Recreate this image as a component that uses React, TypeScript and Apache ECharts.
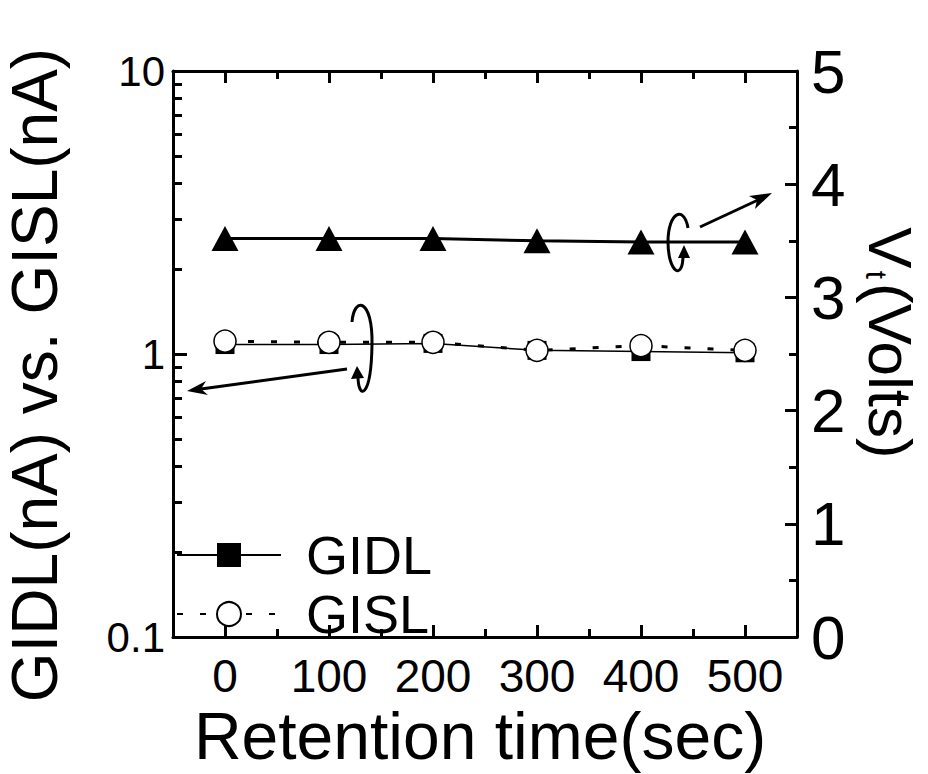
import React, { useEffect, useRef } from "react";
import * as echarts from "echarts";

const retentionTimes = [0, 100, 200, 300, 400, 500];
const gidlCurrent = [1.08, 1.08, 1.09, 1.03, 1.02, 1.01];
const gislCurrent = [1.11, 1.1, 1.1, 1.03, 1.07, 1.03];
const vtVolts = [3.52, 3.52, 3.52, 3.5, 3.49, 3.49];
const xMajorTicks = [0, 100, 200, 300, 400, 500];
const xMinorTicks = [50, 150, 250, 350, 450];
const logMinorTicks = [0.2, 0.3, 0.4, 0.5, 0.6, 0.7, 0.8, 0.9, 2, 3, 4, 5, 6, 7, 8, 9];

const FONT = "'Liberation Sans Narrow', 'Liberation Sans', Arial, sans-serif";
const BLACK = "#000";

export default function App() {
  const ref = useRef<HTMLDivElement>(null);
  useEffect(() => {
    if (!ref.current) return;
    const chart = echarts.init(ref.current, undefined, { renderer: "svg" });
    const axisLine = { show: true, onZero: false, lineStyle: { color: BLACK, width: 3 } };
    const hiddenLine = { show: false, onZero: false };
    const pairs = (ys: number[]) => retentionTimes.map((x, i) => [x, ys[i]]);
    const stroke = { stroke: BLACK, lineWidth: 3, fill: "none" };

    chart.setOption({
      animation: false,
      backgroundColor: "#fff",
      grid: { left: 173, top: 71, width: 624, height: 566, containLabel: false, outerBoundsMode: "none" },
      xAxis: [
        {
          type: "value", min: -50, max: 550, position: "bottom",
          axisLine,
          axisTick: { show: true, inside: true, length: 12, customValues: xMajorTicks, lineStyle: { color: BLACK, width: 3 } },
          axisLabel: { customValues: xMajorTicks, fontSize: 46, lineHeight: 40, fontFamily: FONT, color: BLACK, margin: 19 },
          splitLine: { show: false },
          name: "Retention time(sec)", nameLocation: "middle", nameGap: 68, nameMoveOverlap: false,
          nameTextStyle: { fontSize: 66, lineHeight: 62, fontFamily: FONT, color: BLACK, padding: [0, 10, 0, 0] },
        },
        {
          type: "value", min: -50, max: 550, position: "bottom",
          axisLine: hiddenLine,
          axisTick: { show: true, inside: true, length: 8, customValues: xMinorTicks, lineStyle: { color: BLACK, width: 3 } },
          axisLabel: { show: false }, splitLine: { show: false },
        },
        {
          type: "value", min: -50, max: 550, position: "top",
          axisLine,
          axisTick: { show: true, inside: true, length: 12, customValues: xMajorTicks, lineStyle: { color: BLACK, width: 3 } },
          axisLabel: { show: false }, splitLine: { show: false },
        },
        {
          type: "value", min: -50, max: 550, position: "top",
          axisLine: hiddenLine,
          axisTick: { show: true, inside: true, length: 8, customValues: xMinorTicks, lineStyle: { color: BLACK, width: 3 } },
          axisLabel: { show: false }, splitLine: { show: false },
        },
      ],
      yAxis: [
        {
          type: "log", logBase: 10, min: 0.1, max: 10, position: "left",
          axisLine,
          axisTick: { show: true, inside: true, length: 14, lineStyle: { color: BLACK, width: 3 } },
          axisLabel: {
            fontSize: 42, fontFamily: FONT, color: BLACK, margin: 8,
            formatter: (v: number) => (v < 0.5 ? "0.1" : String(Math.round(v))),
          },
          splitLine: { show: false },
          name: "GIDL(nA) vs. GISL(nA)", nameLocation: "middle", nameGap: 110, nameRotate: 90, nameMoveOverlap: false,
          nameTextStyle: { fontSize: 64, lineHeight: 56, fontFamily: FONT, color: BLACK, padding: [0, 42, 0, 0] },
        },
        {
          type: "log", logBase: 10, min: 0.1, max: 10, position: "left",
          axisLine: hiddenLine,
          axisTick: { show: true, inside: true, length: 9, customValues: logMinorTicks, lineStyle: { color: BLACK, width: 3 } },
          axisLabel: { show: false }, splitLine: { show: false },
        },
        {
          type: "value", min: 0, max: 5, interval: 1, position: "right",
          axisLine,
          axisTick: { show: true, inside: true, length: 12, lineStyle: { color: BLACK, width: 3 } },
          minorTick: { show: true, splitNumber: 2, length: 8, lineStyle: { color: BLACK, width: 3 } },
          axisLabel: { fontSize: 62, fontFamily: FONT, color: BLACK, margin: 14 },
          splitLine: { show: false },
          name: "{v|V}{s|t}{v|(Volts)}", nameLocation: "middle", nameGap: 64, nameRotate: -90, nameMoveOverlap: false,
          nameTextStyle: {
            fontSize: 62, lineHeight: 58, fontFamily: FONT, color: BLACK, padding: [0, 22, 0, 0],
            rich: {
              v: { fontSize: 62, lineHeight: 58, fontFamily: FONT, color: BLACK },
              s: { fontSize: 30, lineHeight: 58, fontFamily: FONT, color: BLACK, padding: [28, 4, 0, 2] },
            },
          },
        },
      ],
      legend: {
        data: ["GIDL", "GISL"], orient: "vertical", left: 176, top: 528,
        itemWidth: 104, itemHeight: 30, itemGap: 5, padding: 0,
        textStyle: { fontSize: 54, lineHeight: 52, fontFamily: FONT, color: BLACK, padding: [0, 0, 0, 20] },
      },
      series: [
        {
          name: "GIDL", type: "line", xAxisIndex: 0, yAxisIndex: 0, data: pairs(gidlCurrent),
          symbol: "rect", symbolSize: 19,
          itemStyle: { color: BLACK },
          lineStyle: { color: BLACK, width: 1.5 },
          z: 3,
        },
        {
          name: "GISL", type: "line", xAxisIndex: 0, yAxisIndex: 0, data: pairs(gislCurrent),
          symbol: "circle", symbolSize: 22,
          itemStyle: { color: "#fff", borderColor: BLACK, borderWidth: 1.5 },
          lineStyle: { color: BLACK, width: 3, type: [6, 17] },
          z: 4,
        },
        {
          name: "Vt", type: "line", xAxisIndex: 0, yAxisIndex: 2, data: pairs(vtVolts),
          symbol: "triangle", symbolSize: [27, 25],
          itemStyle: { color: BLACK },
          lineStyle: { color: BLACK, width: 3 },
          z: 5,
        },
      ],
      graphic: [
        // left loop + arrow to left axis
        { type: "bezierCurve", shape: { x1: 352, y1: 322, cpx1: 354, cpy1: 296, cpx2: 373, cpy2: 298, x2: 372, y2: 345 }, style: stroke, z: 10 },
        { type: "bezierCurve", shape: { x1: 372, y1: 345, cpx1: 371, cpy1: 400, cpx2: 358, cpy2: 400, x2: 358, y2: 376 }, style: stroke, z: 10 },
        { type: "polygon", shape: { points: [[357, 366], [351, 379], [364, 378]] }, style: { fill: BLACK }, z: 10 },
        { type: "line", shape: { x1: 347, y1: 369, x2: 201, y2: 389 }, style: { stroke: BLACK, lineWidth: 3 }, z: 10 },
        { type: "polygon", shape: { points: [[187, 391], [206, 381], [201, 389], [208, 395]] }, style: { fill: BLACK }, z: 10 },
        // right loop + arrow to right axis
        { type: "bezierCurve", shape: { x1: 688, y1: 228, cpx1: 684, cpy1: 205, cpx2: 668, cpy2: 212, x2: 668, y2: 242 }, style: stroke, z: 10 },
        { type: "bezierCurve", shape: { x1: 668, y1: 242, cpx1: 668, cpy1: 272, cpx2: 683, cpy2: 282, x2: 683, y2: 255 }, style: stroke, z: 10 },
        { type: "polygon", shape: { points: [[684, 245], [678, 258], [690, 258]] }, style: { fill: BLACK }, z: 10 },
        { type: "line", shape: { x1: 700, y1: 227, x2: 758, y2: 200 }, style: { stroke: BLACK, lineWidth: 3 }, z: 10 },
        { type: "polygon", shape: { points: [[772, 193], [749, 196], [757, 200], [755, 209]] }, style: { fill: BLACK }, z: 10 },
      ],
    });
    return () => chart.dispose();
  }, []);
  return (
    <div
      ref={ref}
      style={{ position: "fixed", left: 0, top: 0, width: 928, height: 774, background: "#fff" }}
    />
  );
}
